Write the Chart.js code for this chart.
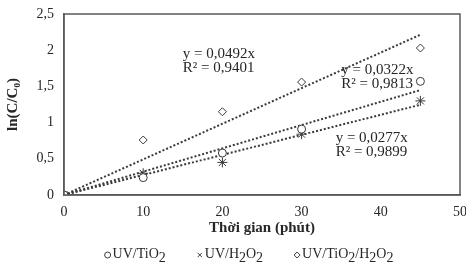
<!DOCTYPE html>
<html>
<head>
<meta charset="utf-8">
<script src="https://cdn.jsdelivr.net/npm/chart.js@4/dist/chart.umd.min.js"></script>
<style>
  html, body { margin: 0; padding: 0; background: #fff; }
  #wrap { width: 466px; height: 268px; }
</style>
</head>
<body>
<div id="wrap"><canvas id="chart"></canvas></div>
<script>
// time points (minutes)
const times = [0, 10, 20, 30, 45];

// ln(C/C0)
const tio2 = [0, 0.24, 0.58, 0.91, 1.57];
const h2o2 = [0, 0.30, 0.45, 0.84, 1.30];
const tio2h2o2 = [0, 0.76, 1.15, 1.56, 2.03];

const seriesNames = ['UV/TiO₂', 'UV/H₂O₂', 'UV/TiO₂/H₂O₂'];
const seriesMarkers = ['circle', 'star', 'rectRot'];
const legendMarkers = ['circle', 'crossRot', 'rectRot'];

// linear trendlines through origin (slopes from the equations)
const slopes = [0.0322, 0.0277, 0.0492];
const r2 = ['0,9813', '0,9899', '0,9401'];
const trendEnd = 45;

// where each equation label sits, in data units
const labelAt = [[35, 1.72], [34.3, 0.79], [15, 1.95]];

const serif = '"Liberation Serif", "Times New Roman", serif';
const ink = '#262626';
const markColor = '#3a3a3a';

function toPoints(ys) {
    return times.map((t, i) => ({ x: t, y: ys[i] }));
}

const datasets = [];
[tio2, h2o2, tio2h2o2].forEach((ys, i) => {
    datasets.push({
        label: seriesNames[i],
        data: toPoints(ys),
        pointStyle: seriesMarkers[i],
        pointRadius: i == 1 ? 5 : 4,
        borderColor: markColor,
        backgroundColor: '#fff',
        pointBorderWidth: 1,
        showLine: false
    });
});
slopes.forEach((s, i) => {
    datasets.push({
        label: 'trend' + i,
        data: [{ x: 0, y: 0 }, { x: trendEnd, y: s * trendEnd }],
        showLine: true,
        pointRadius: 0,
        borderColor: '#3a3a3a',
        borderWidth: 2,
        borderDash: [2, 2],
        fill: false
    });
});

// text with ₂ / ₀ drawn as lowered digits, like the original legend
function splitSub(txt) {
    const parts = [];
    for (const ch of txt) {
        const code = ch.charCodeAt(0);
        const isSub = code >= 0x2080 && code <= 0x2089;
        const c = isSub ? String(code - 0x2080) : ch;
        if (parts.length && parts[parts.length - 1].sub == isSub) parts[parts.length - 1].t += c;
        else parts.push({ t: c, sub: isSub });
    }
    return parts;
}
function measureRich(ctx, txt) {
    let w = 0;
    ctx.font = '14px ' + serif;
    splitSub(txt).forEach(p => { w += ctx.measureText(p.t).width; });
    return w;
}
function drawRich(ctx, txt, x, y) {
    ctx.font = '14px ' + serif;
    splitSub(txt).forEach(p => {
        ctx.fillText(p.t, x, p.sub ? y + 4 : y);
        x += ctx.measureText(p.t).width;
    });
}

// frame around plot, trendline equations, legend
const extras = {
    id: 'extras',
    afterDatasetsDraw(chart) {
        const { ctx, chartArea, scales } = chart;
        ctx.save();
        ctx.strokeStyle = '#595959';
        ctx.lineWidth = 1.5;
        ctx.strokeRect(chartArea.left, chartArea.top, chartArea.right - chartArea.left, chartArea.bottom - chartArea.top);

        ctx.fillStyle = ink;
        ctx.font = '15px ' + serif;
        ctx.textBaseline = 'middle';
        slopes.forEach((s, i) => {
            const px = scales.x.getPixelForValue(labelAt[i][0]);
            const py = scales.y.getPixelForValue(labelAt[i][1]);
            ctx.fillText('y = ' + String(s).replace('.', ',') + 'x', px, py);
            ctx.fillText('R² = ' + r2[i], px, py + 14);
        });

        // legend
        const gap = 33, markW = 6;
        const widths = seriesNames.map(n => markW + measureRich(ctx, n));
        const total = widths.reduce((a, b) => a + b, 0) + gap * (seriesNames.length - 1);
        let x = 249 - total / 2;
        const y = 254;
        seriesNames.forEach((n, i) => {
            ctx.strokeStyle = markColor;
            ctx.fillStyle = '#fff';
            ctx.lineWidth = 1;
            Chart.helpers.drawPoint(ctx, { pointStyle: legendMarkers[i], radius: 3, borderWidth: 1 }, x + 2, y + 1);
            ctx.fillStyle = ink;
            drawRich(ctx, n, x + markW + 1, y);
            x += widths[i] + gap;
        });
        ctx.restore();
    }
};

new Chart(document.getElementById('chart'), {
    type: 'scatter',
    data: { datasets: datasets },
    options: {
        responsive: true,
        maintainAspectRatio: false,
        animation: false,
        layout: { padding: { top: 14, right: 4, left: 0, bottom: 25 } },
        plugins: {
            legend: { display: false },
            tooltip: { enabled: false }
        },
        scales: {
            x: {
                type: 'linear',
                min: 0,
                max: 50,
                ticks: { stepSize: 10, padding: 9, color: ink, font: { family: serif, size: 14 } },
                grid: { display: false, drawTicks: false },
                border: { display: true, color: '#595959', width: 1.5 },
                title: {
                    display: true,
                    text: 'Thời gian (phút)',
                    color: ink,
                    font: { family: serif, size: 15, weight: 'bold' },
                    padding: { top: 0, bottom: 6 }
                },
                afterFit(scale) {
                    scale.height = 48;
                    scale.paddingRight = 0;
                    scale.paddingLeft = 0;
                }
            },
            y: {
                min: 0,
                max: 2.5,
                ticks: {
                    stepSize: 0.5,
                    padding: 10,
                    color: ink,
                    font: { family: serif, size: 14 },
                    callback: v => String(v).replace('.', ',')
                },
                grid: { display: false, drawTicks: false },
                border: { display: true, color: '#595959', width: 1.5 },
                title: {
                    display: true,
                    text: 'ln(C/C₀)',
                    color: ink,
                    font: { family: serif, size: 15, weight: 'bold' },
                    padding: { top: 4, bottom: 0 }
                },
                afterFit(scale) {
                    scale.width = 64;
                    scale.paddingTop = 0;
                }
            }
        }
    },
    plugins: [extras]
});
</script>
</body>
</html>
